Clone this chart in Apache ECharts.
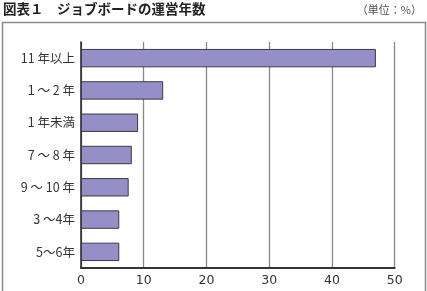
<!DOCTYPE html>
<html><head><meta charset="utf-8">
<script src="https://cdn.jsdelivr.net/npm/echarts@6/dist/echarts.min.js"></script>
<style>html,body{margin:0;padding:0;background:#fff}#c{width:427px;height:291px}</style>
</head><body><div id="c"></div>
<script>
var categories = ['11 年以上', '1 ～ 2 年', '1 年未満', '7 ～ 8 年', '9 ～ 10 年', '3 ～4年', '5～6年'];
var values = [47.0, 13.1, 9.1, 8.1, 7.6, 6.1, 6.1];
var xTicks = [0, 10, 20, 30, 40, 50];
var titleText = '図表１　ジョブボードの運営年数';
var unitText = '（単位：%）';

var chart = echarts.init(document.getElementById('c'), null, {renderer: 'canvas'});
var font = '"Noto Sans CJK JP", "Noto Sans", sans-serif';
chart.setOption({
  animation: false,
  textStyle: {fontFamily: font},
  graphic: [
    {type: 'rect', shape: {x: 2.5, y: 22.5, width: 423, height: 290}, style: {fill: 'none', stroke: '#8a8a8a', lineWidth: 1.5}},
    {type: 'text', left: 3, top: 2, style: {text: titleText, font: 'bold 13.5px ' + font, fill: '#222'}},
    {type: 'text', right: 5, top: 4, style: {text: unitText, font: '11px ' + font, fill: '#555'}}
  ],
  grid: {left: 81, right: 32.3, top: 42, bottom: 23, containLabel: false},
  xAxis: {
    type: 'value', min: xTicks[0], max: xTicks[xTicks.length - 1], interval: 10,
    axisLine: {show: true, lineStyle: {color: '#333', width: 2}},
    axisTick: {show: false},
    axisLabel: {color: '#333', fontSize: 12.5, margin: 6, fontFamily: 'DejaVu Sans'},
    splitLine: {show: true, lineStyle: {color: '#888', width: 1.3}}
  },
  yAxis: {
    type: 'category', data: categories, inverse: true,
    axisLine: {show: true, lineStyle: {color: '#222', width: 1.5}},
    axisTick: {show: false},
    axisLabel: {color: '#333', fontSize: 12.5, margin: 6}
  },
  series: [{
    type: 'bar', data: values, barWidth: '57%',
    itemStyle: {color: '#948fc6', borderColor: '#3a3a4a', borderWidth: 1}
  }]
});
</script></body></html>
